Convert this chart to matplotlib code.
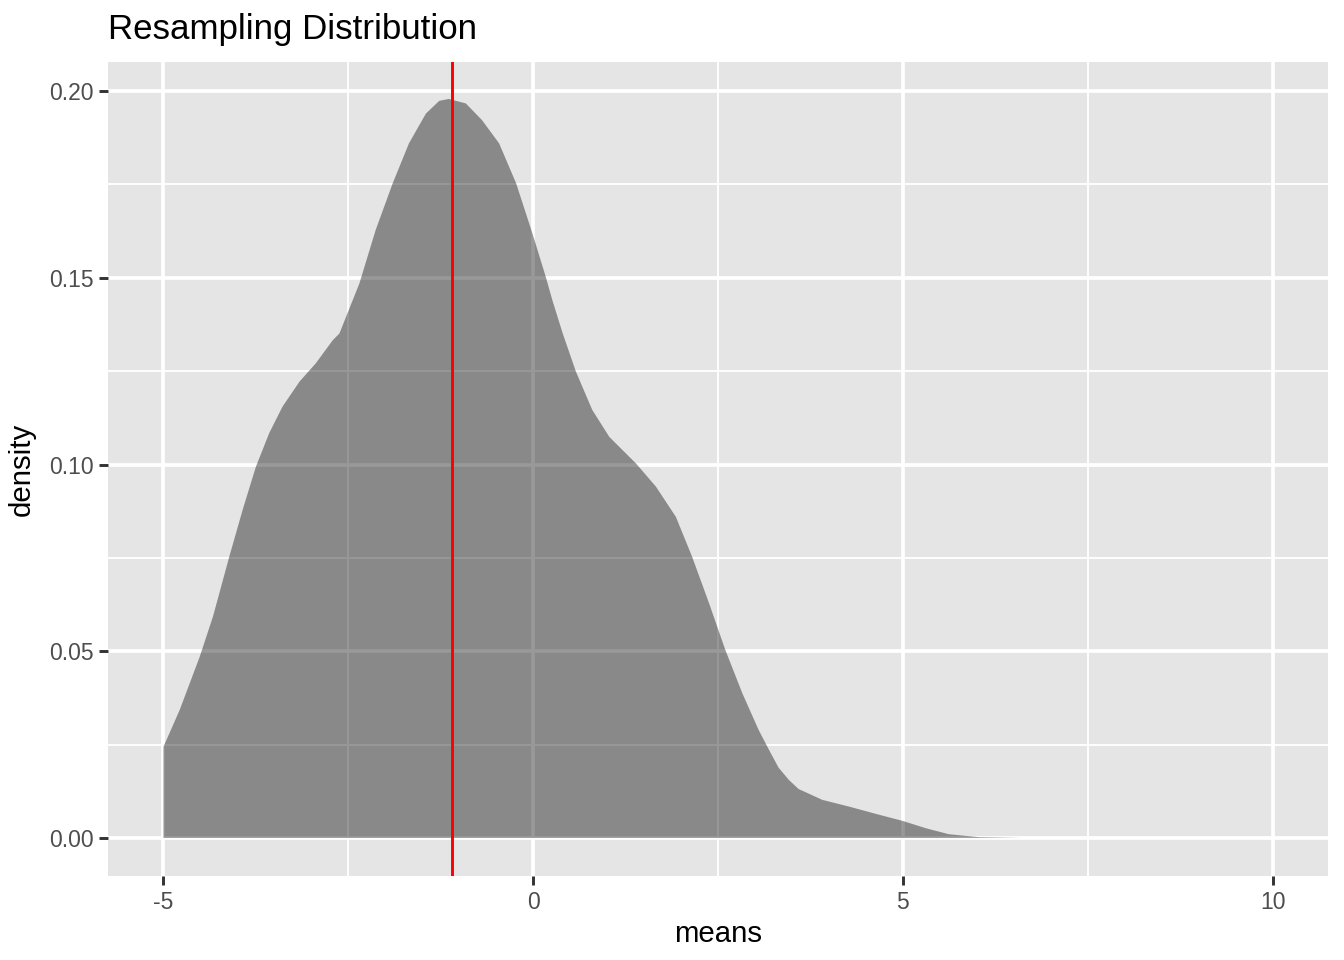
import matplotlib

matplotlib.use("Agg")
import matplotlib.pyplot as plt
import numpy as np

plt.rcParams["font.family"] = ["Liberation Sans", "DejaVu Sans"]

# density estimate of the resampled means
density_x = [-5.0, -4.78, -4.51, -4.33, -4.11, -3.93, -3.75, -3.57, -3.39, -3.16,
             -2.94, -2.71, -2.62, -2.35, -2.13, -1.90, -1.68, -1.45, -1.27, -1.14,
             -0.91, -0.69, -0.46, -0.23, -0.01, 0.17, 0.26, 0.40, 0.58, 0.80,
             1.03, 1.39, 1.66, 1.93, 2.15, 2.38, 2.60, 2.83, 3.05, 3.20, 3.32,
             3.46, 3.59, 3.91, 4.27, 4.68, 4.99, 5.31, 5.62, 6.03, 6.6, 8.0, 10.0]
density_y = [0.0244, 0.0343, 0.0485, 0.0593, 0.0753, 0.0878, 0.0994, 0.1084, 0.1155, 0.1222,
             0.1271, 0.1333, 0.1351, 0.1485, 0.1628, 0.1753, 0.1860, 0.1940, 0.1974, 0.1979,
             0.1967, 0.1922, 0.1860, 0.1753, 0.1619, 0.1503, 0.1440, 0.1351, 0.1248, 0.1146,
             0.1074, 0.1003, 0.0941, 0.0860, 0.0753, 0.0628, 0.0503, 0.0387, 0.0289, 0.0232, 0.0188,
             0.0155, 0.0131, 0.0102, 0.0084, 0.0062, 0.0046, 0.0026, 0.0010, 0.0002, 0.0, 0.0, 0.0]
observed_mean = -1.10

x_ticks = [-5, 0, 5, 10]
x_minor = [-2.5, 2.5, 7.5]
y_ticks = [0.00, 0.05, 0.10, 0.15, 0.20]
y_minor = [0.025, 0.075, 0.125, 0.175]

fig = plt.figure(figsize=(7.0, 5.0), dpi=192)
ax = fig.add_axes([108 / 1344, 84 / 960, 1220 / 1344, 814 / 960])
ax.set_facecolor("#E5E5E5")

xs = np.array(density_x)
ys = np.array(density_y)
ax.set_xlim(-5.75, 10.75)
ax.set_ylim(-0.0102, 0.2078)

# ggplot-style grid
for v in x_minor:
    ax.axvline(v, color="white", lw=0.7, zorder=0.5)
for v in y_minor:
    ax.axhline(v, color="white", lw=0.7, zorder=0.5)
for v in x_ticks:
    ax.axvline(v, color="white", lw=1.4, zorder=0.6)
for v in y_ticks:
    ax.axhline(v, color="white", lw=1.4, zorder=0.6)

ax.fill_between(xs, 0, ys, facecolor="black", alpha=0.4, linewidth=0, zorder=1)
ax.axvline(observed_mean, color="#FF0000", lw=1.1, zorder=2)

for s in ax.spines.values():
    s.set_visible(False)
ax.set_xticks(x_ticks)
ax.set_xticklabels(["-5", "0", "5", "10"])
ax.set_yticks(y_ticks)
ax.set_yticklabels(["0.00", "0.05", "0.10", "0.15", "0.20"])
ax.tick_params(length=3.5, width=1.1, color="#333333", labelcolor="#4D4D4D",
               labelsize=8.6, pad=2)

ax.set_xlabel("means", fontsize=11, color="black", labelpad=2.5)
ax.set_ylabel("density", fontsize=11, color="black", labelpad=5)
fig.text(108 / 1344, 1 - 30 / 960, "Resampling Distribution", fontsize=13.1,
         color="black", ha="left", va="center")

fig.savefig("out.png", dpi=192)
